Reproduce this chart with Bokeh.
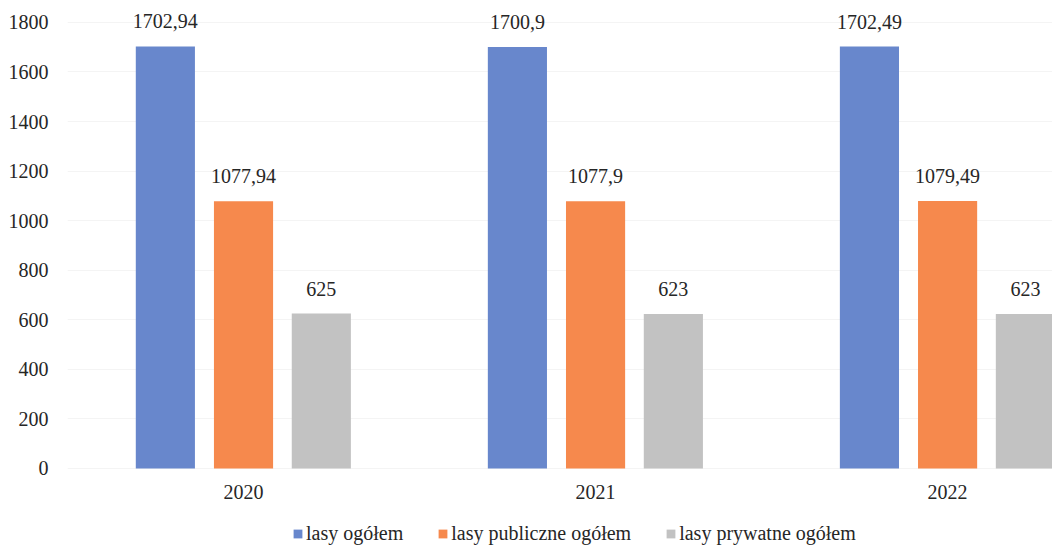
from bokeh.plotting import figure
from bokeh.models import ColumnDataSource, Range1d, FixedTicker, Legend, LegendItem
from bokeh.transform import dodge
from bokeh.core.properties import value
from bokeh.embed import file_html
from bokeh.resources import INLINE

years = ["2020", "2021", "2022"]
lasy_ogolem = [1702.94, 1700.9, 1702.49]
lasy_publiczne = [1077.94, 1077.9, 1079.49]
lasy_prywatne = [625, 623, 623]
series_names = ["lasy ogółem", "lasy publiczne ogółem", "lasy prywatne ogółem"]
y_ticks = [0, 200, 400, 600, 800, 1000, 1200, 1400, 1600, 1800]

colors = ["#6887cc", "#f6894d", "#c2c2c2"]
FONT = "Liberation Serif"
TXT = "#262626"


def fmt(v):
    return f"{v:g}".replace(".", ",")


xs = list(range(len(years)))
src = ColumnDataSource(dict(
    x=xs,
    year=years,
    zero=[0] * len(years),
    a=lasy_ogolem, b=lasy_publiczne, c=lasy_prywatne,
    la=[fmt(v) for v in lasy_ogolem],
    lb=[fmt(v) for v in lasy_publiczne],
    lc=[fmt(v) for v in lasy_prywatne],
))

# frame extends below zero so the category labels and legend sit inside it
p = figure(frame_width=985, frame_height=535, output_backend="svg", toolbar_location=None,
           x_range=Range1d(-0.5, 2.298), y_range=Range1d(-311, 1848),
           x_axis_location=None,
           min_border_left=67, min_border_right=0, min_border_top=10, min_border_bottom=0)
p.outline_line_color = None
p.background_fill_color = "white"

offs = [-0.222, 0.0, 0.221]
cols = ["a", "b", "c"]
lcols = ["la", "lb", "lc"]
renderers = []
for off, col, lcol, color in zip(offs, cols, lcols, colors):
    r = p.vbar(x=dodge("x", off, range=p.x_range), top=col, width=0.168, source=src,
               fill_color=color, line_color=None)
    renderers.append(r)
    p.text(x=dodge("x", off, range=p.x_range), y=col, text=lcol, source=src,
           text_align="center", text_baseline="alphabetic", y_offset=-25,
           text_font=value(FONT), text_font_size="20px", text_color=TXT)

# category (year) labels under the groups
p.text(x="x", y="zero", text="year", source=src, text_align="center",
       text_baseline="middle", y_offset=24,
       text_font=value(FONT), text_font_size="20px", text_color=TXT)

# y axis
p.yaxis.ticker = FixedTicker(ticks=y_ticks)
ax = p.yaxis[0]
ax.axis_line_color = None
ax.major_tick_line_color = None
ax.minor_tick_line_color = None
ax.major_tick_in = 0
ax.major_tick_out = 0
ax.major_label_text_font = FONT
ax.major_label_text_font_size = "20px"
ax.major_label_text_color = TXT
ax.major_label_standoff = 19

p.xgrid.grid_line_color = None
p.ygrid.grid_line_color = "#f4f4f4"
p.ygrid.ticker = FixedTicker(ticks=y_ticks)

legend = Legend(items=[LegendItem(label=n, renderers=[r]) for n, r in zip(series_names, renderers)],
                orientation="horizontal", location=(225, 0),
                label_text_font=FONT, label_text_font_size="20px", label_text_color=TXT,
                glyph_width=11, glyph_height=11, label_standoff=3, spacing=34,
                padding=0, margin=0, border_line_color=None, background_fill_alpha=0)
p.add_layout(legend, "center")

open("out.html", "w").write(file_html(p, INLINE))
